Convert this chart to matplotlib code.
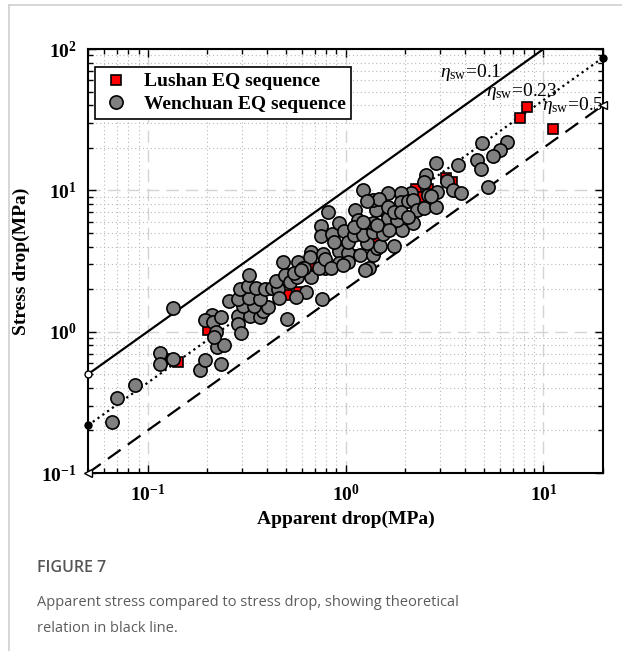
import numpy as np
import matplotlib
matplotlib.use('Agg')
import matplotlib.pyplot as plt
from matplotlib.ticker import LogLocator, FuncFormatter, NullFormatter
from matplotlib.lines import Line2D

plt.rcParams['font.family'] = 'Liberation Serif'
plt.rcParams['mathtext.fontset'] = 'custom'
plt.rcParams['mathtext.rm'] = 'Liberation Serif'
plt.rcParams['mathtext.it'] = 'Liberation Serif:italic'
plt.rcParams['mathtext.bf'] = 'Liberation Serif:bold'

# Lushan EQ sequence (apparent stress, stress drop) in MPa
lushan_app = [0.131, 0.143, 0.203, 0.504, 0.579, 0.53, 0.666, 1.10, 1.40,
              2.28, 2.60, 2.39, 3.20, 3.47, 7.65, 8.30, 11.2]
lushan_sd = [0.64, 0.61, 1.02, 1.83, 1.92, 2.54, 2.84, 3.46, 4.42,
             10.2, 10.2, 8.92, 12.2, 11.4, 32.4, 38.8, 27.0]

# Wenchuan EQ sequence
wen_app = [0.066, 0.070, 0.086, 0.134, 0.116, 0.116, 0.135, 0.183, 0.194, 0.234,
           0.223, 0.242, 0.211, 0.194, 0.213, 0.234, 0.221, 0.216,
           0.285, 0.285, 0.295, 0.331, 0.368, 0.385, 0.302, 0.343, 0.408, 0.257,
           0.285, 0.324, 0.368, 0.292, 0.320, 0.351, 0.390, 0.423, 0.454, 0.327,
           0.443, 0.492, 0.527, 0.566, 0.481, 0.573, 0.607, 0.673, 0.628, 0.559,
           0.459, 0.765, 0.509, 0.546,
           0.811, 0.748, 0.748, 0.850, 0.922, 0.988, 0.666, 0.658, 0.774, 0.792,
           0.731, 0.614, 0.922, 1.035, 0.792, 0.922, 1.035, 0.840, 0.966, 0.593,
           0.870, 1.035, 1.19, 1.37, 1.45, 1.31, 1.26, 1.29, 1.50, 1.75,
           1.10, 1.22, 1.37, 1.54, 1.94, 1.12, 1.42, 1.15, 1.37, 1.63,
           1.83, 1.10, 1.23, 1.45, 1.65, 2.18,
           2.85, 2.54, 2.48, 2.13, 1.90, 2.60, 1.63, 1.22, 1.37, 1.47,
           1.29, 1.63, 1.90, 2.06, 2.20, 2.31, 2.48, 2.85, 1.75, 1.90,
           2.06, 6.58, 6.06, 5.59, 4.92, 4.64, 4.81, 3.68, 5.27, 3.27,
           3.51, 3.81, 2.91, 2.69]
wen_sd = [0.23, 0.34, 0.42, 1.46, 0.71, 0.59, 0.64, 0.54, 0.63, 0.59,
          0.78, 0.81, 1.32, 1.20, 1.18, 1.28, 1.00, 0.91,
          1.30, 1.14, 0.98, 1.30, 1.26, 1.39, 1.53, 1.53, 1.50, 1.66,
          1.69, 1.74, 1.71, 2.02, 2.12, 2.05, 2.02, 2.05, 1.99, 2.50,
          2.30, 2.50, 2.23, 2.45, 3.09, 3.09, 2.80, 2.42, 1.92, 1.77,
          1.74, 1.71, 1.22, 2.62,
          6.98, 5.55, 4.72, 4.95, 5.83, 5.12, 3.69, 3.35, 3.57, 2.80,
          2.80, 2.84, 3.75, 3.63, 3.29, 3.04, 3.09, 2.84, 2.94, 2.71,
          4.28, 4.28, 3.46, 3.46, 3.88, 2.84, 2.71, 4.21, 4.07, 4.07,
          4.80, 4.80, 5.04, 4.95, 5.20, 7.21, 7.21, 6.13, 5.83, 6.33,
          6.13, 5.47, 5.93, 5.65, 5.20, 5.83,
          15.5, 12.8, 11.4, 9.52, 9.52, 9.22, 9.52, 10.0, 8.49, 8.63,
          8.36, 7.57, 8.22, 8.36, 8.49, 7.21, 7.45, 7.57, 6.98, 6.98,
          6.44, 21.9, 19.2, 17.4, 21.5, 16.3, 14.1, 15.0, 10.5, 11.6,
          10.0, 9.52, 9.68, 9.06]

# theoretical relation: stress drop = apparent stress / eta_sw
eta_vals = [0.1, 0.23, 0.5]
eta_labels = ['0.1', '0.23', '0.5']
x_range = np.array([0.05, 20.0])

fig = plt.figure(figsize=(6.22, 6.51), dpi=100)
ax = fig.add_axes([0.1415, 0.2734, 0.828, 0.6513])
ax.set_xscale('log')
ax.set_yscale('log')
ax.set_xlim(0.05, 20)
ax.set_ylim(0.1, 100)

ax.set_axisbelow(True)
ax.grid(True, which='major', ls=(0, (9, 5)), color='#d4d4d4', lw=1.0)
ax.grid(True, which='minor', ls=(0, (1, 2.5)), color='#b8b8b8', lw=0.8)

styles = [dict(ls='-', marker='o', mfc='white', ms=5),
          dict(ls=':', marker='o', mfc='black', ms=5),
          dict(ls=(0, (7, 4)), marker='<', mfc='white', ms=6)]
for eta, st in zip(eta_vals, styles):
    ax.plot(x_range, x_range / eta, color='black', lw=1.6, ls=st['ls'])
# end markers sitting on the frame
for eta, st in zip(eta_vals, styles):
    yy = x_range / eta
    keep = yy <= 100
    ax.plot(x_range[keep], yy[keep], ls='none', marker=st['marker'],
            mfc=st['mfc'], mec='black', ms=st['ms'], mew=1.0, clip_on=False, zorder=5)

ax.plot(lushan_app, lushan_sd, ls='none', marker='s', ms=6.5, mfc='#ff0000',
        mec='black', mew=1.2, zorder=3)
ax.plot(wen_app, wen_sd, ls='none', marker='o', ms=9.5, mfc='#808080',
        mec='black', mew=1.2, zorder=4)

for eta_txt, xt, yt in zip(eta_labels, [3.0, 5.1, 9.8], [68, 50, 40]):
    ax.text(xt, yt, r'$\eta_{\mathrm{sw}}$=' + eta_txt, fontsize=14, va='center')

def fmt(v, pos):
    e = int(round(np.log10(v)))
    return r'$\mathbf{10^{%d}}$' % e

ax.xaxis.set_major_locator(LogLocator(base=10))
ax.yaxis.set_major_locator(LogLocator(base=10))
ax.xaxis.set_minor_locator(LogLocator(base=10, subs=np.arange(2, 10)))
ax.yaxis.set_minor_locator(LogLocator(base=10, subs=np.arange(2, 10)))
ax.xaxis.set_major_formatter(FuncFormatter(fmt))
ax.yaxis.set_major_formatter(FuncFormatter(fmt))
ax.xaxis.set_minor_formatter(NullFormatter())
ax.yaxis.set_minor_formatter(NullFormatter())
ax.tick_params(which='both', direction='in', top=True, right=True, width=1.0)
ax.tick_params(which='major', length=6, labelsize=14, pad=8)
ax.tick_params(which='minor', length=3.5)
for sp in ax.spines.values():
    sp.set_linewidth(1.5)

ax.set_xlabel('Apparent drop(MPa)', fontsize=14, fontweight='bold', labelpad=4)
ax.set_ylabel('Stress drop(MPa)', fontsize=14, fontweight='bold', labelpad=8)

handles = [Line2D([], [], ls='none', marker='s', ms=6.5, mfc='#ff0000', mec='black', mew=1.2),
           Line2D([], [], ls='none', marker='o', ms=9.5, mfc='#808080', mec='black', mew=1.2)]
leg = ax.legend(handles, ['Lushan EQ sequence', 'Wenchuan EQ sequence'],
                loc='upper left', bbox_to_anchor=(0.0136, 0.9575), borderaxespad=0,
                prop={'family': 'Liberation Serif', 'weight': 'bold', 'size': 14},
                fancybox=False, framealpha=1, edgecolor='black',
                handletextpad=0.6, borderpad=0.3, labelspacing=0.25, handlelength=1.6)
leg.get_frame().set_linewidth(1.2)

# page frame lines and caption
fig.add_artist(Line2D([9 / 622, 9 / 622], [0, 1 - 5 / 651], color='#cfcfcf', lw=1.2))
fig.add_artist(Line2D([9 / 622, 1], [1 - 5 / 651, 1 - 5 / 651], color='#cfcfcf', lw=1.2))
fig.text(37 / 622, 1 - 568 / 651, 'FIGURE 7', fontsize=11.5, family='Open Sans',
         fontweight='semibold', color='#555555', va='center')
fig.text(37 / 622, 1 - 602 / 651,
         'Apparent stress compared to stress drop, showing theoretical',
         fontsize=10.5, family='Open Sans', fontweight='normal', color='#5c5c5c', va='center')
fig.text(37 / 622, 1 - 628 / 651, 'relation in black line.',
         fontsize=10.5, family='Open Sans', fontweight='normal', color='#5c5c5c', va='center')

fig.savefig('out.png', dpi=100)
